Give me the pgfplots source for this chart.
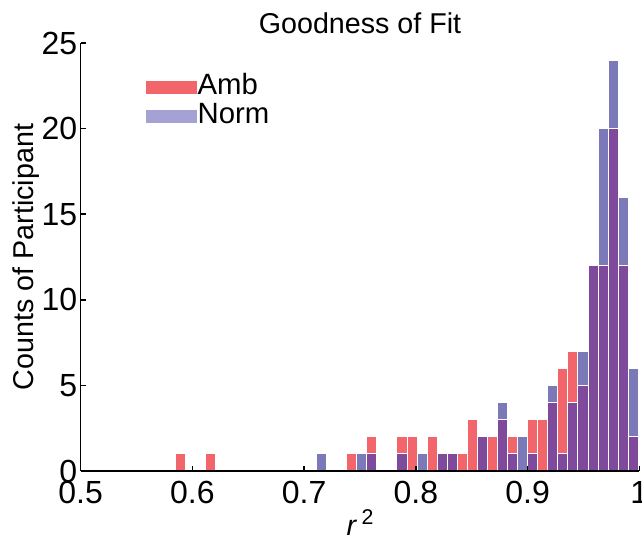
\documentclass[border=0pt]{standalone}
\usepackage{fontspec}
\setmainfont{Liberation Sans}
\usepackage{pgfplots}
\usepackage{pgfplotstable}
\pgfplotsset{compat=1.18}

\definecolor{ambred}{RGB}{242,102,107}
\definecolor{normblue}{RGB}{124,121,185}
\definecolor{bothpurple}{RGB}{127,74,156}
\definecolor{normlegend}{RGB}{164,162,212}

% bin centre, count (bin width about 0.009)
\pgfplotstableread{
x cnt
0.5896 1
0.6166 1
0.7426 1
0.7606 2
0.7876 2
0.7966 2
0.8146 2
0.8236 1
0.8326 1
0.8416 1
0.8506 3
0.8596 2
0.8686 2
0.8776 3
0.8866 2
0.9046 3
0.9136 3
0.9226 4
0.9316 6
0.9406 7
0.9496 5
0.9586 12
0.9676 12
0.9766 20
0.9856 12
0.9946 2
}\amb

\pgfplotstableread{
x cnt
0.7156 1
0.7516 1
0.7606 1
0.7876 1
0.8056 1
0.8236 1
0.8326 1
0.8596 2
0.8776 4
0.8866 1
0.8956 2
0.9046 1
0.9226 5
0.9316 1
0.9406 4
0.9496 7
0.9586 12
0.9676 20
0.9766 24
0.9856 16
0.9946 6
}\norm

% where both histograms overlap (smaller of the two counts)
\pgfplotstableread{
x cnt
0.7606 1
0.7876 1
0.8236 1
0.8326 1
0.8596 2
0.8776 3
0.8866 1
0.9046 1
0.9226 4
0.9316 1
0.9406 4
0.9496 5
0.9586 12
0.9676 12
0.9766 20
0.9856 12
0.9946 2
}\both

\begin{document}
\begin{tikzpicture}
\begin{axis}[
    scale only axis,
    width=419pt, height=321pt,
    xmin=0.5, xmax=1, ymin=0, ymax=25,
    axis on top,
    axis x line*=bottom, axis y line*=left,
    axis line style={line width=1.1pt},
    tick style={line width=1.1pt, black},
    tick align=inside,
    major tick length=3.75pt,
    xtick={0.5,0.6,0.7,0.8,0.9,1},
    xticklabels={0.5,0.6,0.7,0.8,0.9,1},
    ytick={0,5,10,15,20,25},
    /pgf/number format/assume math mode=true,
    tick label style={font=\fontsize{24}{26}\selectfont},
    xticklabel style={yshift=-4pt},
    yticklabel style={xshift=1pt},
    title={Goodness of Fit},
    title style={font=\fontsize{21.5}{24}\selectfont, at={(0.5,1)}, anchor=center, yshift=9pt},
    xlabel={\itshape r\hspace{4pt}\upshape\raisebox{8pt}{\fontsize{16}{16}\selectfont 2}},
    xlabel style={font=\fontsize{21.5}{24}\selectfont, at={(0.5,0)}, anchor=center, yshift=-38.5pt},
    ylabel={Counts of Participant},
    ylabel style={font=\fontsize{21.5}{24}\selectfont, at={(-0.098,0.5)}, anchor=center},
    legend style={at={(0.116,0.9315)}, anchor=north west, draw=none, fill=none,
        font=\fontsize{22}{22}\selectfont, inner sep=0pt, row sep=0pt,
        nodes={text height=15.5pt, text depth=4.5pt, inner sep=1pt}},
    legend cell align=left,
]
\addlegendimage{legend image code/.code={\fill[ambred] (0pt,-4.5pt) rectangle (37.5pt,4.5pt);}}
\addlegendentry{Amb}
\addlegendimage{legend image code/.code={\fill[normlegend] (0pt,-4.5pt) rectangle (37.5pt,4.5pt);}}
\addlegendentry{Norm}
\addplot[ybar, bar shift=0pt, bar width=0.009, fill=ambred, draw=white, line width=0.75pt, forget plot] table {\amb};
\addplot[ybar, bar shift=0pt, bar width=0.009, fill=normblue, draw=white, line width=0.75pt, forget plot] table {\norm};
\addplot[ybar, bar shift=0pt, bar width=0.009, fill=bothpurple, draw=white, line width=0.75pt, forget plot] table {\both};
\end{axis}
\pgfresetboundingbox
\path[use as bounding box] (-60.5pt,-51.75pt) rectangle (421pt,353.25pt);
\end{tikzpicture}
\end{document}
